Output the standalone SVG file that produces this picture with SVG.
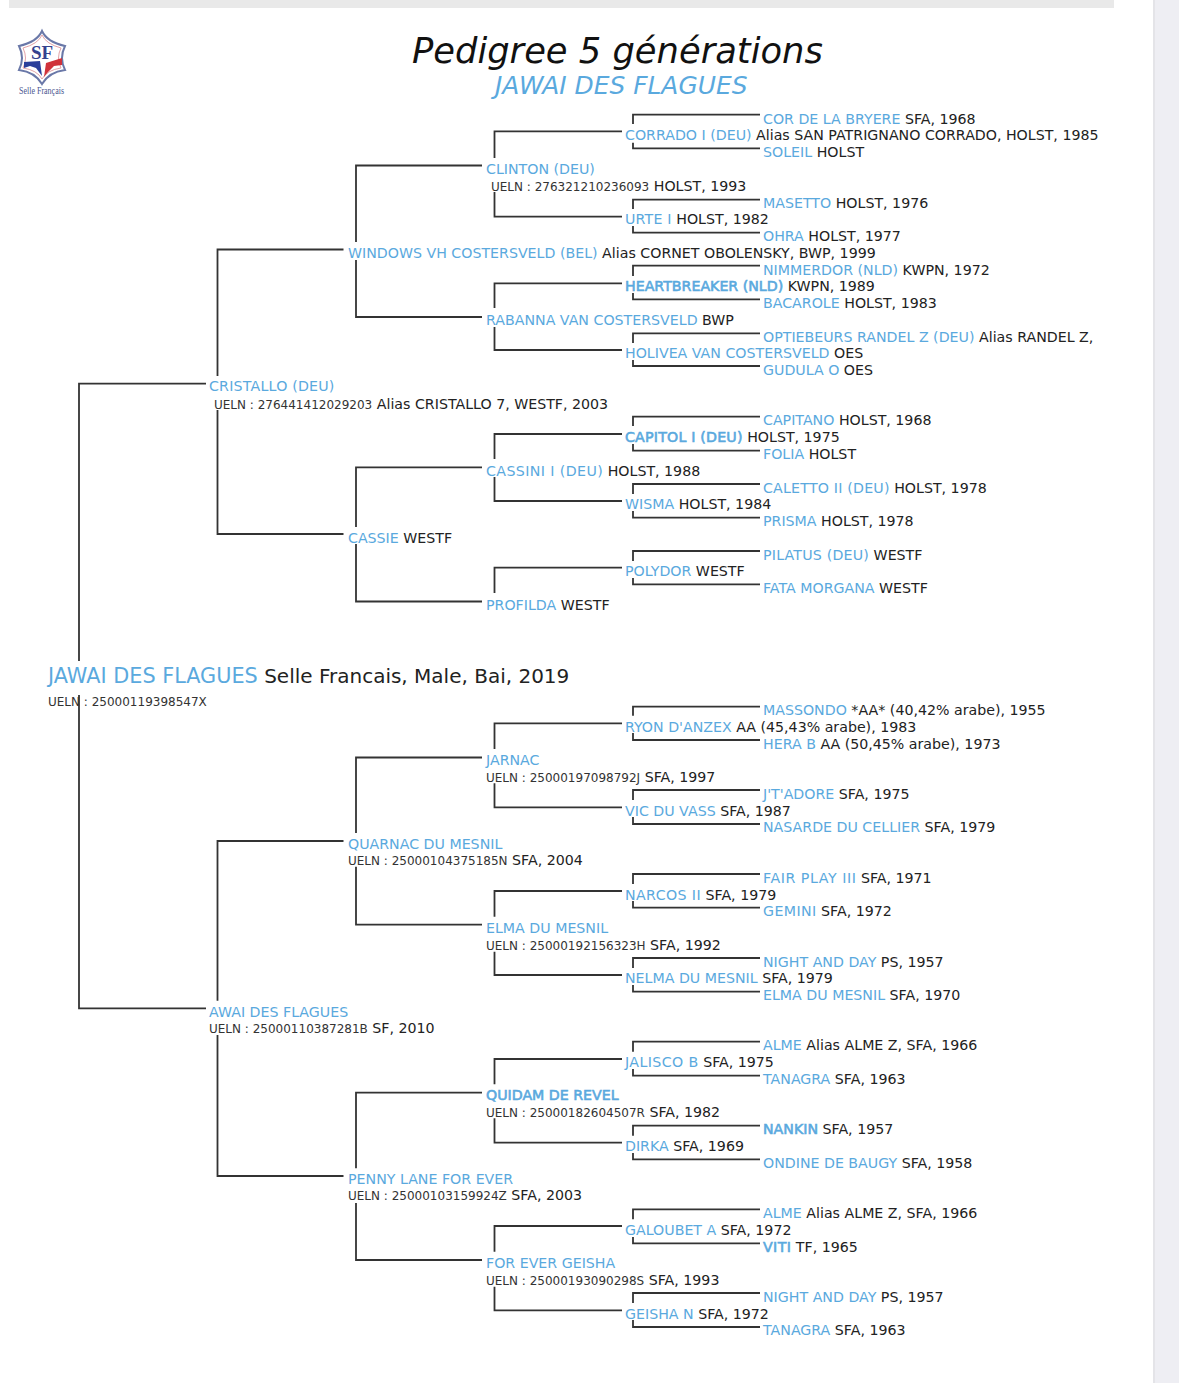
<svg xmlns="http://www.w3.org/2000/svg" width="1179" height="1383" viewBox="0 0 1179 1383">
<style>
text{font-family:"DejaVu Sans",Verdana,sans-serif;font-size:14.2px;fill:#222}
.b{fill:#5aa9de}
.h{stroke:#5aa9de;stroke-width:.6}
.u{font-size:12px;fill:#333}
.s2{letter-spacing:.2px}
.s4{letter-spacing:.4px}
#links path{fill:none;stroke:#333;stroke-width:1.8}
</style>
<rect width="1179" height="1383" fill="#fff"/>
<rect x="9" y="0" width="1105" height="8" fill="#e9e9e9"/>
<rect x="1153" y="0" width="2" height="1383" fill="#e4e4e8"/>
<rect x="1155" y="0" width="24" height="1383" fill="#eeeef3"/>
<g id="logo">
<path d="M42 31Q47 42 65 46Q59 58 65 70Q49 72 42 84Q35 72 19 70Q25 58 19 46Q37 42 42 31Z" fill="#fff" stroke="#6a78a8" stroke-width="2"/>
<path d="M42 35Q46 44 61 48Q56 58 61 68Q47 70 42 79Q37 70 23 68Q28 58 23 48Q38 44 42 35Z" fill="none" stroke="#d98a90" stroke-width=".8"/>
<path d="M24 62L40 61L42 76L36 68L30 66L24 68Z" fill="#2b3f9b"/>
<path d="M44 77L46 63L62 58L62 65L54 66L48 72Z" fill="#d0323a"/>
<text x="42" y="59" text-anchor="middle" style="font-family:'Liberation Serif',serif;font-size:19px;font-weight:700;fill:#34428f">SF</text>
<text x="19" y="94" textLength="45" lengthAdjust="spacingAndGlyphs" style="font-family:'Liberation Serif',serif;font-size:10px;fill:#4a5590">Selle Français</text>
</g>
<g id="title">
<text x="412" y="63" style="font-size:35.3px;font-style:italic;fill:#111">Pedigree 5 générations</text>
<text x="495" y="94" class="b" style="font-size:24.9px;font-style:italic">JAWAI DES FLAGUES</text>
</g>
<g id="links">
<path d="M206 383.7H79V661M79 695V1008.3H206"/>
<path d="M343.5 249.5H217.5V376M217.5 410V534H343.5"/>
<path d="M482 165.5H356V242M356 260V317H482M482 467.3H356V527M356 544V601.5H482"/>
<path d="M622 131.3H494.5V158M494.5 192V216.7H622M622 283.3H494.5V308M494.5 327V350H622M622 434H494.5V459M494.5 477V501H622M622 567.7H494.5V593"/>
<path d="M760 114.7H633V124M633 142.7V148.3H760M760 199.7H633V209M633 226V232.7H760M760 265.7H633V276M633 293V299.3H760M760 333.3H633V343M633 360V366H760M760 416.7H633V426M633 444V450.7H760M760 484H633V494M633 511V517.7H760M760 551H633V561M633 578V584.3H760"/>
<path d="M343.5 841H217.5V1000.7M217.5 1035V1176H343.5"/>
<path d="M482 757.5H356V833M356 866.7V924.7H482M482 1092.7H356V1168.3M356 1203V1260H482"/>
<path d="M622 723.3H494.5V749M494.5 783.3V807.3H622M622 891H494.5V916.7M494.5 951.7V975H622M622 1059H494.5V1084.3M494.5 1118.3V1142.7H622M622 1226H494.5V1251.7M494.5 1286.7V1310.3H622"/>
<path d="M760 706.7H633V715.7M633 733V740H760M760 790H633V800M633 817V824H760M760 874H633V884M633 901V907.7H760M760 958H633V968M633 985V991.7H760M760 1041.7H633V1051.7M633 1069V1075.7H760M760 1125.7H633V1135.7M633 1153V1159.3H760M760 1209.3H633V1219.3M633 1237V1243.3H760M760 1293H633V1303M633 1320V1327H760"/>
</g>
<g id="n-root"><text x="48" y="683" style="font-size:20px"><tspan class="b" style="font-size:20.8px">JAWAI DES FLAGUES</tspan> Selle Francais, Male, Bai, 2019</text><text x="48" y="706" class="u">UELN : 25000119398547X</text></g>
<g id="n-cristallo"><text x="209" y="391"><tspan class="b s2">CRISTALLO (DEU)</tspan></text><text x="214" y="409"><tspan class="u">UELN : 276441412029203</tspan> Alias CRISTALLO 7, WESTF, 2003</text></g>
<g id="n-windows"><text x="348" y="258"><tspan class="b">WINDOWS VH COSTERSVELD (BEL)</tspan> Alias CORNET OBOLENSKY, BWP, 1999</text></g>
<g id="n-clinton"><text x="486" y="174"><tspan class="b">CLINTON (DEU)</tspan></text><text x="491" y="191"><tspan class="u">UELN : 276321210236093</tspan> HOLST, 1993</text></g>
<g id="n-corrado"><text x="625" y="140"><tspan class="b">CORRADO I (DEU)</tspan> Alias SAN PATRIGNANO CORRADO, HOLST, 1985</text></g>
<g id="n-cor"><text x="763" y="124"><tspan class="b">COR DE LA BRYERE</tspan> SFA, 1968</text></g>
<g id="n-soleil"><text x="763" y="157"><tspan class="b">SOLEIL</tspan> HOLST</text></g>
<g id="n-urte"><text x="625" y="224"><tspan class="b s2">URTE I</tspan> HOLST, 1982</text></g>
<g id="n-masetto"><text x="763" y="208"><tspan class="b">MASETTO</tspan> HOLST, 1976</text></g>
<g id="n-ohra"><text x="763" y="241"><tspan class="b">OHRA</tspan> HOLST, 1977</text></g>
<g id="n-rabanna"><text x="486" y="325"><tspan class="b">RABANNA VAN COSTERSVELD</tspan> BWP</text></g>
<g id="n-heartbreaker"><text x="625" y="291"><tspan class="b h">HEARTBREAKER (NLD)</tspan> KWPN, 1989</text></g>
<g id="n-nimmerdor"><text x="763" y="275"><tspan class="b">NIMMERDOR (NLD)</tspan> KWPN, 1972</text></g>
<g id="n-bacarole"><text x="763" y="308"><tspan class="b">BACAROLE</tspan> HOLST, 1983</text></g>
<g id="n-holivea"><text x="625" y="358"><tspan class="b">HOLIVEA VAN COSTERSVELD</tspan> OES</text></g>
<g id="n-optiebeurs"><text x="763" y="342"><tspan class="b">OPTIEBEURS RANDEL Z (DEU)</tspan> Alias RANDEL Z,</text></g>
<g id="n-gudula"><text x="763" y="375"><tspan class="b">GUDULA O</tspan> OES</text></g>
<g id="n-cassie"><text x="348" y="543"><tspan class="b">CASSIE</tspan> WESTF</text></g>
<g id="n-cassini"><text x="486" y="476"><tspan class="b s4">CASSINI I (DEU)</tspan> HOLST, 1988</text></g>
<g id="n-capitol"><text x="625" y="442"><tspan class="b h s2">CAPITOL I (DEU)</tspan> HOLST, 1975</text></g>
<g id="n-capitano"><text x="763" y="425"><tspan class="b">CAPITANO</tspan> HOLST, 1968</text></g>
<g id="n-folia"><text x="763" y="459"><tspan class="b">FOLIA</tspan> HOLST</text></g>
<g id="n-wisma"><text x="625" y="509"><tspan class="b">WISMA</tspan> HOLST, 1984</text></g>
<g id="n-caletto"><text x="763" y="493"><tspan class="b s2">CALETTO II (DEU)</tspan> HOLST, 1978</text></g>
<g id="n-prisma"><text x="763" y="526"><tspan class="b">PRISMA</tspan> HOLST, 1978</text></g>
<g id="n-profilda"><text x="486" y="610"><tspan class="b">PROFILDA</tspan> WESTF</text></g>
<g id="n-polydor"><text x="625" y="576"><tspan class="b">POLYDOR</tspan> WESTF</text></g>
<g id="n-pilatus"><text x="763" y="560"><tspan class="b s2">PILATUS (DEU)</tspan> WESTF</text></g>
<g id="n-fata"><text x="763" y="593"><tspan class="b">FATA MORGANA</tspan> WESTF</text></g>
<g id="n-awai"><text x="209" y="1017"><tspan class="b">AWAI DES FLAGUES</tspan></text><text x="209" y="1033"><tspan class="u">UELN : 25000110387281B</tspan> SF, 2010</text></g>
<g id="n-quarnac"><text x="348" y="849"><tspan class="b">QUARNAC DU MESNIL</tspan></text><text x="348" y="865"><tspan class="u">UELN : 25000104375185N</tspan> SFA, 2004</text></g>
<g id="n-jarnac"><text x="486" y="765"><tspan class="b">JARNAC</tspan></text><text x="486" y="782"><tspan class="u">UELN : 25000197098792J</tspan> SFA, 1997</text></g>
<g id="n-ryon"><text x="625" y="732"><tspan class="b">RYON D'ANZEX</tspan> AA (45,43% arabe), 1983</text></g>
<g id="n-massondo"><text x="763" y="715"><tspan class="b">MASSONDO</tspan> *AA* (40,42% arabe), 1955</text></g>
<g id="n-hera"><text x="763" y="749"><tspan class="b">HERA B</tspan> AA (50,45% arabe), 1973</text></g>
<g id="n-vic"><text x="625" y="816"><tspan class="b">VIC DU VASS</tspan> SFA, 1987</text></g>
<g id="n-jadore"><text x="763" y="799"><tspan class="b">J'T'ADORE</tspan> SFA, 1975</text></g>
<g id="n-nasarde"><text x="763" y="832"><tspan class="b">NASARDE DU CELLIER</tspan> SFA, 1979</text></g>
<g id="n-elma"><text x="486" y="933"><tspan class="b">ELMA DU MESNIL</tspan></text><text x="486" y="950"><tspan class="u">UELN : 25000192156323H</tspan> SFA, 1992</text></g>
<g id="n-narcos"><text x="625" y="900"><tspan class="b s4">NARCOS II</tspan> SFA, 1979</text></g>
<g id="n-fairplay"><text x="763" y="883"><tspan class="b" style="letter-spacing:.55px">FAIR PLAY III</tspan> SFA, 1971</text></g>
<g id="n-gemini"><text x="763" y="916"><tspan class="b s4">GEMINI</tspan> SFA, 1972</text></g>
<g id="n-nelma"><text x="625" y="983"><tspan class="b">NELMA DU MESNIL</tspan> SFA, 1979</text></g>
<g id="n-night1"><text x="763" y="967"><tspan class="b">NIGHT AND DAY</tspan> PS, 1957</text></g>
<g id="n-elma2"><text x="763" y="1000"><tspan class="b">ELMA DU MESNIL</tspan> SFA, 1970</text></g>
<g id="n-penny"><text x="348" y="1184"><tspan class="b">PENNY LANE FOR EVER</tspan></text><text x="348" y="1200"><tspan class="u">UELN : 25000103159924Z</tspan> SFA, 2003</text></g>
<g id="n-quidam"><text x="486" y="1100"><tspan class="b h">QUIDAM DE REVEL</tspan></text><text x="486" y="1117"><tspan class="u">UELN : 25000182604507R</tspan> SFA, 1982</text></g>
<g id="n-jalisco"><text x="625" y="1067"><tspan class="b s4">JALISCO B</tspan> SFA, 1975</text></g>
<g id="n-alme1"><text x="763" y="1050"><tspan class="b">ALME</tspan> Alias ALME Z, SFA, 1966</text></g>
<g id="n-tanagra1"><text x="763" y="1084"><tspan class="b">TANAGRA</tspan> SFA, 1963</text></g>
<g id="n-dirka"><text x="625" y="1151"><tspan class="b">DIRKA</tspan> SFA, 1969</text></g>
<g id="n-nankin"><text x="763" y="1134"><tspan class="b h">NANKIN</tspan> SFA, 1957</text></g>
<g id="n-ondine"><text x="763" y="1168"><tspan class="b">ONDINE DE BAUGY</tspan> SFA, 1958</text></g>
<g id="n-foreever"><text x="486" y="1268"><tspan class="b">FOR EVER GEISHA</tspan></text><text x="486" y="1285"><tspan class="u">UELN : 25000193090298S</tspan> SFA, 1993</text></g>
<g id="n-galoubet"><text x="625" y="1235"><tspan class="b">GALOUBET A</tspan> SFA, 1972</text></g>
<g id="n-alme2"><text x="763" y="1218"><tspan class="b">ALME</tspan> Alias ALME Z, SFA, 1966</text></g>
<g id="n-viti"><text x="763" y="1252"><tspan class="b h s4">VITI</tspan> TF, 1965</text></g>
<g id="n-geisha"><text x="625" y="1319"><tspan class="b">GEISHA N</tspan> SFA, 1972</text></g>
<g id="n-night2"><text x="763" y="1302"><tspan class="b">NIGHT AND DAY</tspan> PS, 1957</text></g>
<g id="n-tanagra2"><text x="763" y="1335"><tspan class="b">TANAGRA</tspan> SFA, 1963</text></g>
</svg>
